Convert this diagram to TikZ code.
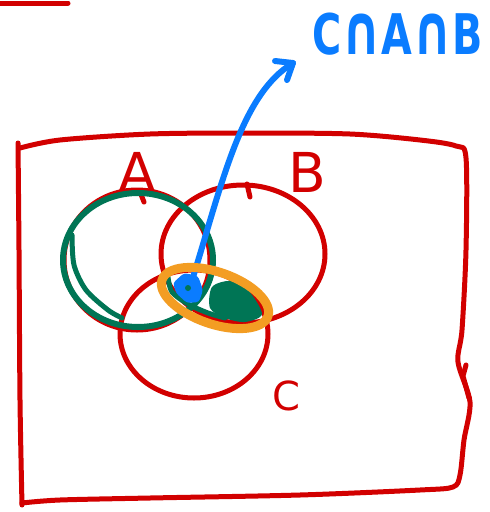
\documentclass[tikz,border=0pt]{standalone}
\usepackage{fontspec}
\setmainfont{DejaVu Sans}
\usepackage{graphicx}
\definecolor{pred}{RGB}{210,0,0}
\definecolor{pgreen}{RGB}{0,117,85}
\definecolor{pblue}{RGB}{10,124,255}
\definecolor{porange}{RGB}{243,157,35}
\newcommand{\bigcapglyph}{{\fontsize{70pt}{70pt}\selectfont ∩}}
\begin{document}
\begin{tikzpicture}[x=1pt,y=-1pt,line cap=round,line join=round,
  redline/.style={draw=pred,line width=5pt},
  greenline/.style={draw=pgreen,line width=6pt},
  blueline/.style={draw=pblue,line width=6pt},
  orangeline/.style={draw=porange,line width=9pt},
  setlabel/.style={text=pred,inner sep=0pt,font=\fontsize{55pt}{55pt}\selectfont}]
\useasboundingbox (0,0) rectangle (490,512);
% stray line top-left
\draw[redline] (0,3) -- (68,3);
% universe rectangle
\draw[redline] plot[smooth,tension=0.5] coordinates {(22,505) (20,400) (19,250) (18,143)};
\draw[redline] plot[smooth,tension=0.5] coordinates {(20,148) (60,140) (150,134) (250,133) (350,134) (420,140) (456,146) (466,158) (466,250) (462,330) (458,362) (470,402) (464,440) (460,475) (453,487) (420,490) (300,495) (150,498) (60,500) (22,503)};
\draw[redline] (466,365) -- (463,376) -- (469,398);
% set circles
\draw[redline] (137,260) ellipse[x radius=73pt,y radius=70pt];
\draw[redline] (140,192) -- (144,202);
\draw[redline] (243,254) ellipse[x radius=82pt,y radius=69pt];
\draw[redline] (247,184) -- (250,197);
\draw[redline] (194,334) ellipse[x radius=74pt,y radius=64pt];
% labels
\node[setlabel] (la) at (137,172) {A};
\node[setlabel] (lb) at (307,172) {B};
\node[setlabel,font=\fontsize{40pt}{40pt}\selectfont] (lc) at (286,396) {C};
% green outline around A
\draw[greenline] (138,260) ellipse[x radius=75pt,y radius=67pt];
\draw[greenline,line width=5pt] plot[smooth] coordinates {(72,235) (74,265) (86,290) (108,310) (122,318)};
% blue arrow
\coordinate (s) at (190,287);
\coordinate (t) at (293,63);
\coordinate (t1) at (275,61);
\coordinate (t2) at (287,80);
\draw[blueline] (s) .. controls (222,185) and (240,95) .. (t);
\draw[blueline] (t1) -- (t) -- (t2);
% intersection marks
\draw[greenline,line width=5pt] plot[smooth] coordinates {(168,277) (172,292) (188,304) (208,313) (225,318)};
\fill[pgreen] plot[smooth cycle] coordinates {(212,287) (230,281) (248,290) (262,314) (245,322) (225,318) (210,308)};
\draw[orangeline,rotate around={-19:(215,298)}] (215,298) ellipse[x radius=56pt,y radius=26pt];
\fill[pblue,rounded corners=3pt] (173,283) -- (184,273) -- (198,276) -- (203,290) -- (199,302) -- (187,303) -- (176,293) -- cycle;
\fill[pgreen] (188,288) circle (3pt);
% title label
\node[text=pblue,inner sep=0pt,anchor=base west,font=\bfseries\fontsize{56pt}{56pt}\selectfont] (lab) at (312,54) {\resizebox{171pt}{\height}{C\bigcapglyph A\bigcapglyph B}};
\end{tikzpicture}
\end{document}
